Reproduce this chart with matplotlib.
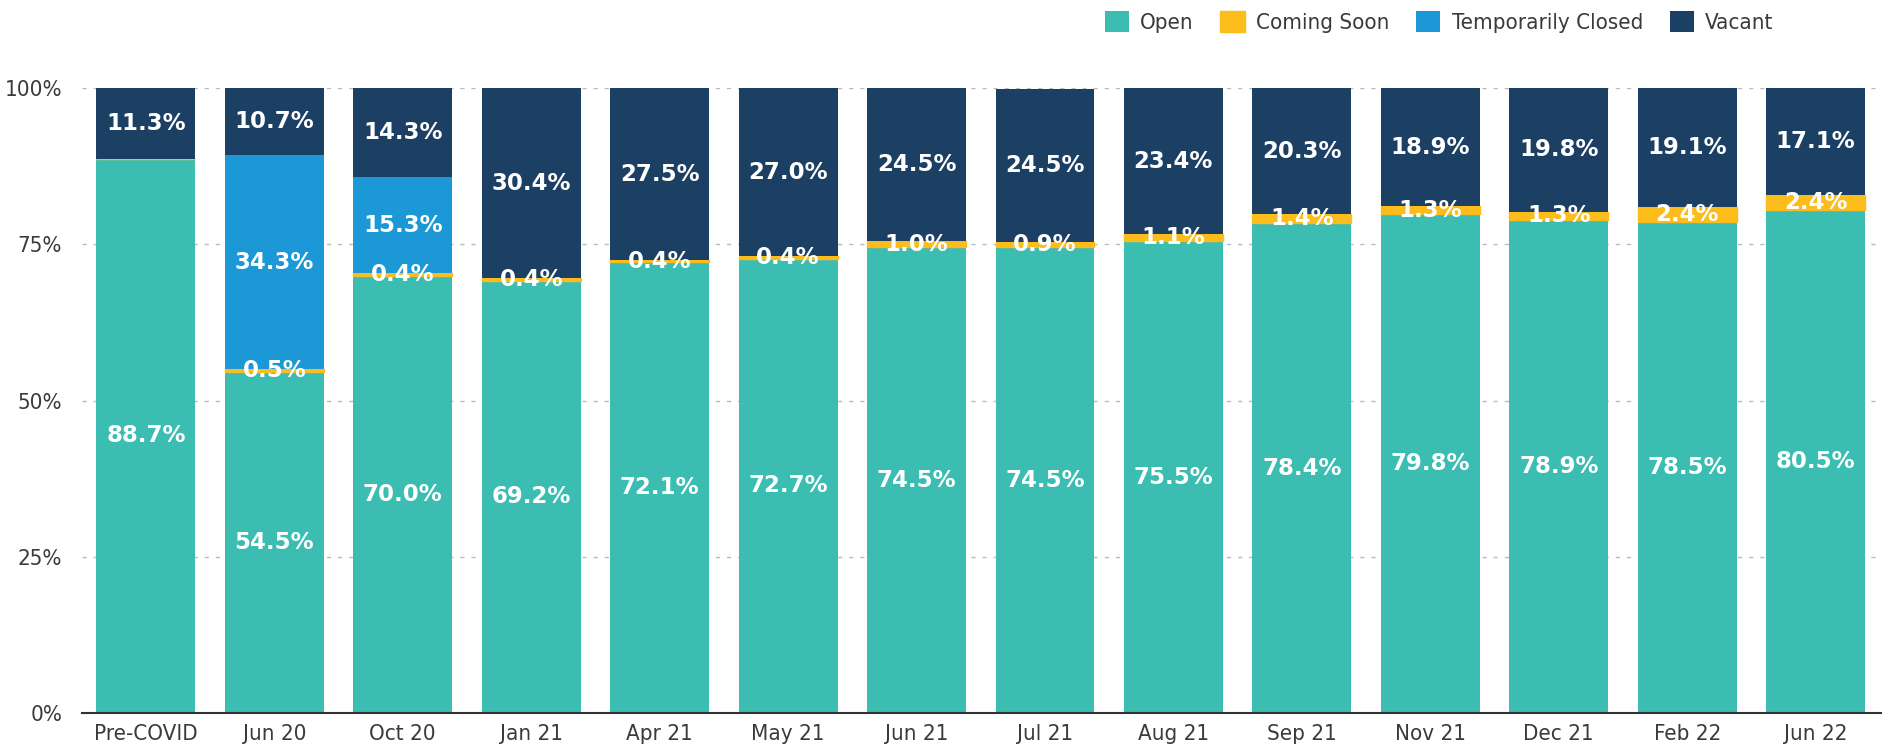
import matplotlib
matplotlib.use("Agg")
import matplotlib.pyplot as plt
import matplotlib.font_manager as fm
import numpy as np

categories = ["Pre-COVID", "Jun 20", "Oct 20", "Jan 21", "Apr 21", "May 21", "Jun 21",
              "Jul 21", "Aug 21", "Sep 21", "Nov 21", "Dec 21", "Feb 22", "Jun 22"]
open_vals = [88.7, 54.5, 70.0, 69.2, 72.1, 72.7, 74.5, 74.5, 75.5, 78.4, 79.8, 78.9, 78.5, 80.5]
coming_soon = [0.0, 0.5, 0.4, 0.4, 0.4, 0.4, 1.0, 0.9, 1.1, 1.4, 1.3, 1.3, 2.4, 2.4]
temp_closed = [0.0, 34.3, 15.3, 0.0, 0.0, 0.0, 0.0, 0.0, 0.0, 0.0, 0.0, 0.0, 0.0, 0.0]
vacant = [11.3, 10.7, 14.3, 30.4, 27.5, 27.0, 24.5, 24.5, 23.4, 20.3, 18.9, 19.8, 19.1, 17.1]
yticks = [0, 25, 50, 75, 100]
ytick_labels = ["0%", "25%", "50%", "75%", "100%"]

c_open = "#3bbdb2"
c_soon = "#fcbc1c"
c_temp = "#1b98d5"
c_vac = "#1c3f64"

tick_prop = fm.FontProperties(family="DejaVu Sans", stretch="condensed", size=16)
lab_font = dict(family="DejaVu Sans", weight="bold", size=16.5, color="white")

fig = plt.figure(figsize=(19.04, 7.53), dpi=100)
ax = fig.add_axes([0.0429, 0.0531, 0.988 - 0.0429, 0.883 - 0.0531])

x = np.arange(len(categories))
w = 0.77
o = np.array(open_vals)
s = np.array(coming_soon)
t = np.array(temp_closed)
v = np.array(vacant)

b1 = ax.bar(x, o, w, color=c_open, label="Open", zorder=3)
b2 = ax.bar(x, s, w, bottom=o, color=c_soon, edgecolor=c_soon, linewidth=1.0,
            label="Coming Soon", zorder=3)
b3 = ax.bar(x, t, w, bottom=o + s, color=c_temp, label="Temporarily Closed", zorder=3)
b4 = ax.bar(x, v, w, bottom=o + s + t, color=c_vac, label="Vacant", zorder=3)

ax.bar_label(b1, labels=[f"{val:.1f}%" for val in open_vals], label_type="center", **lab_font, zorder=5)
ax.bar_label(b2, labels=[f"{val:.1f}%" if val > 0 else "" for val in coming_soon],
             label_type="center", **lab_font, zorder=5)
ax.bar_label(b3, labels=[f"{val:.1f}%" if val > 0 else "" for val in temp_closed],
             label_type="center", **lab_font, zorder=5)
ax.bar_label(b4, labels=[f"{val:.1f}%" for val in vacant], label_type="center", **lab_font, zorder=5)

ax.set_xlim(-0.5, 13.51)
ax.set_ylim(0, 100)
ax.set_yticks(yticks)
ax.set_yticklabels(ytick_labels)
ax.set_xticks(x)
ax.set_xticklabels(categories)
for lbl in ax.get_xticklabels() + ax.get_yticklabels():
    lbl.set_fontproperties(tick_prop)
    lbl.set_color("#3a3a3a")
ax.tick_params(axis="y", length=0, pad=14)
ax.tick_params(axis="x", length=0, pad=8)

for sp in ["left", "right", "top"]:
    ax.spines[sp].set_visible(False)
ax.spines["bottom"].set_color("#333333")
ax.spines["bottom"].set_linewidth(1.5)
ax.spines["bottom"].set_zorder(4)

ax.yaxis.grid(True, linestyle=(0, (3, 5)), color="#bbbbbb", linewidth=1, zorder=0)
ax.set_axisbelow(True)

fig.legend(handles=[b1, b2, b3, b4], labels=["Open", "Coming Soon", "Temporarily Closed", "Vacant"],
           loc="upper right", bbox_to_anchor=(0.942, 1.012), ncol=4, frameon=False,
           prop=tick_prop, handlelength=1.1, handleheight=1.1,
           handletextpad=0.5, columnspacing=1.2, labelcolor="#3a3a3a")

fig.savefig("out.png", dpi=100)
